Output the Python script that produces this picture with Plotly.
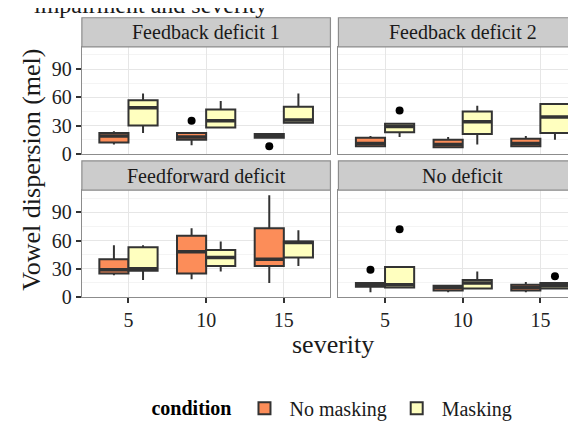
import plotly.graph_objects as go

W, H = 576, 425
FONT = "Liberation Serif"

severity = ["5", "10", "15"]
panels = ["Feedback deficit 1", "Feedback deficit 2", "Feedforward deficit", "No deficit"]
conditions = ["No masking", "Masking"]
colors = ["#FC8D59", "#FFFFBF"]

# per panel (same order as `panels`), per severity
nomask_q1 = [[12, 15, 17], [8, 7, 8], [25, 25, 33], [11, 7, 7]]
nomask_med = [[19, 18, 19], [11, 10, 11], [29, 48, 40], [13, 10, 10]]
nomask_q3 = [[22, 22, 21], [17, 15, 16], [40, 65, 73], [15, 12, 13]]
nomask_lo = [[10, 9, 17], [7, 6, 7], [23, 19, 15], [5, 5, 5]]
nomask_hi = [[24, 22, 21], [19, 18, 19], [55, 73, 108], [15, 12, 16]]
nomask_out = [[None, 35, 8], [None, None, None], [None, None, None], [29, None, None]]

mask_q1 = [[30, 28, 33], [23, 21, 22], [28, 33, 42], [10, 9, 9]]
mask_med = [[49, 35, 36], [29, 34, 39], [30, 42, 58], [13, 15, 12]]
mask_q3 = [[57, 47, 50], [32, 45, 53], [53, 50, 59], [32, 18, 15]]
mask_lo = [[22, 28, 33], [18, 10, 15], [18, 27, 33], [10, 9, 9]]
mask_hi = [[64, 56, 64], [32, 51, 54], [55, 59, 71], [32, 27, 15]]
mask_out = [[None, None, None], [46, None, None], [None, None, None], [72, None, 22]]

y_ticks = [0, 30, 60, 90]

stats = [
    (nomask_q1, nomask_med, nomask_q3, nomask_lo, nomask_hi, nomask_out),
    (mask_q1, mask_med, mask_q3, mask_lo, mask_hi, mask_out),
]

# layout geometry (pixels)
left_x = (74, 323)
right_x = (331, 576)
top_y = (40, 150)
bot_y = (187, 297)
strip_h = 30
unit_px = (left_x[1] - left_x[0]) / 3.2
box_px = 0.375 * unit_px

def fx(p):
    return p / W

def fy(p):
    return 1 - p / H

panel_geo = [
    (left_x, top_y), (right_x, top_y), (left_x, bot_y), (right_x, bot_y)
]

fig = go.Figure()

for pi in range(4):
    ax = "" if pi == 0 else str(pi + 1)
    for ci, cond in enumerate(conditions):
        q1, med, q3, lo, hi, out = stats[ci]
        fig.add_trace(go.Box(
            x=severity, q1=q1[pi], median=med[pi], q3=q3[pi],
            lowerfence=lo[pi], upperfence=hi[pi],
            name=cond, legendgroup=cond, showlegend=(pi == 0),
            offsetgroup=cond, fillcolor=colors[ci],
            line=dict(color="#333333", width=2), whiskerwidth=0,
            boxpoints=False, xaxis="x" + ax, yaxis="y" + ax,
            hoverinfo="skip",
        ))
    for ci, cond in enumerate(conditions):
        med = stats[ci][1]
        fig.add_trace(go.Scatter(
            x=severity, y=med[pi], mode="markers", offsetgroup=cond,
            marker=dict(symbol="line-ew", size=(box_px - 1) / 1.4,
                        line=dict(color="#333333", width=3.5)),
            showlegend=False, xaxis="x" + ax, yaxis="y" + ax, hoverinfo="skip",
        ))
    for ci, cond in enumerate(conditions):
        out = stats[ci][5]
        fig.add_trace(go.Scatter(
            x=severity, y=out[pi], mode="markers", offsetgroup=cond,
            marker=dict(color="black", size=8), showlegend=False,
            xaxis="x" + ax, yaxis="y" + ax, hoverinfo="skip",
        ))

layout = dict(
    width=W, height=H, margin=dict(l=0, r=0, t=0, b=0),
    paper_bgcolor="white", plot_bgcolor="white",
    boxmode="group", boxgap=0.25, boxgroupgap=0,
    scattermode="group", scattergap=0.25,
    font=dict(family=FONT, size=16, color="#1a1a1a"),
    legend=dict(
        orientation="h", x=0.566, xanchor="center", y=fy(411), yanchor="middle",
        title=dict(text="<b>condition</b>", font=dict(family=FONT, size=20, color="black")),
        font=dict(family=FONT, size=20, color="#1a1a1a"),
        itemwidth=40, tracegroupgap=0,
    ),
)

shapes = []
annotations = []
for pi, ((x0, x1), (y0, y1)) in enumerate(panel_geo):
    key = "" if pi == 0 else str(pi + 1)
    left = pi in (0, 2)
    bottom = pi in (2, 3)
    xr_end = -0.6 + (x1 - x0) / unit_px
    layout["xaxis" + key] = dict(
        domain=[fx(x0), fx(x1)], anchor="y" + key,
        type="category", categoryorder="array", categoryarray=severity,
        range=[-0.6, xr_end], showgrid=True, gridcolor="#E6E6E6", gridwidth=1,
        showline=True, mirror=True, linecolor="#8C8C8C", linewidth=1,
        ticks="outside" if bottom else "", ticklen=5, tickwidth=2, tickcolor="#333333",
        showticklabels=bottom, tickfont=dict(family=FONT, size=20, color="#222222"),
        zeroline=False, fixedrange=True,
    )
    layout["yaxis" + key] = dict(
        domain=[fy(y1), fy(y0)], anchor="x" + key,
        range=[-0.3, 113.5], tickvals=y_ticks,
        showgrid=True, gridcolor="#E6E6E6", gridwidth=1,
        minor=dict(dtick=15, tick0=0, showgrid=True, gridcolor="#F4F4F4", gridwidth=1),
        showline=True, mirror=True, linecolor="#8C8C8C", linewidth=1,
        ticks="outside" if left else "", ticklen=5, tickwidth=2, tickcolor="#333333",
        showticklabels=left, tickfont=dict(family=FONT, size=20, color="#222222"),
        zeroline=False, fixedrange=True,
    )
    # strip
    shapes.append(dict(
        type="rect", xref="paper", yref="paper",
        x0=fx(x0), x1=fx(x1 + 4) if x1 >= W else fx(x1),
        y0=fy(y0), y1=fy(y0 - strip_h),
        fillcolor="#CCCCCC", line=dict(color="#8C8C8C", width=1.2), layer="above",
    ))
    annotations.append(dict(
        text=panels[pi], xref="paper", yref="paper",
        x=fx((x0 + (x0 + 3.2 * unit_px)) / 2), y=fy(y0 - strip_h / 2),
        xanchor="center", yanchor="middle", showarrow=False,
        font=dict(family=FONT, size=20, color="#1a1a1a"),
    ))

annotations.append(dict(
    text="severity", xref="paper", yref="paper", x=fx(326), y=fy(345),
    xanchor="center", yanchor="middle", showarrow=False,
    font=dict(family=FONT, size=26, color="#1a1a1a"),
))
annotations.append(dict(
    text="Vowel dispersion (mel)", xref="paper", yref="paper", x=fx(24), y=fy(166),
    xanchor="center", yanchor="middle", showarrow=False, textangle=-90,
    font=dict(family=FONT, size=26, color="#1a1a1a"),
))
annotations.append(dict(
    text="impairment and severity", xref="paper", yref="paper", x=fx(24), y=1,
    xanchor="left", yanchor="bottom", yshift=-12, showarrow=False,
    font=dict(family=FONT, size=24, color="#1a1a1a"),
))

layout["shapes"] = shapes
layout["annotations"] = annotations
fig.update_layout(**layout)

fig.write_html("out.html")
